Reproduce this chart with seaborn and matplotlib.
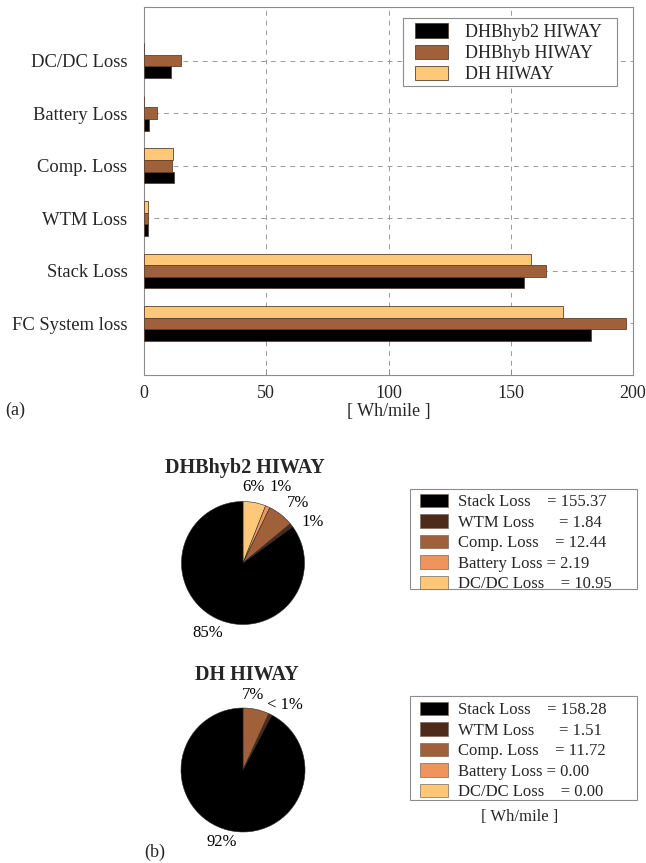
import numpy as np
import pandas as pd
import matplotlib
matplotlib.use("Agg")
import matplotlib.pyplot as plt
from matplotlib.patches import Patch, Rectangle
import seaborn as sns

# ---- data -------------------------------------------------------------
categories = ["DC/DC Loss", "Battery Loss", "Comp. Loss", "WTM Loss",
              "Stack Loss", "FC System loss"]
vehicles = ["DH HIWAY", "DHBhyb HIWAY", "DHBhyb2 HIWAY"]

dh_hiway = [0.00, 0.00, 11.72, 1.51, 158.28, 171.51]
dhbhyb_hiway = [15.3, 5.2, 11.6, 1.6, 164.4, 197.0]
dhbhyb2_hiway = [10.95, 2.19, 12.44, 1.84, 155.37, 182.79]

pie_parts = ["Stack Loss", "WTM Loss", "Comp. Loss", "Battery Loss", "DC/DC Loss"]
pie_dhbhyb2 = [155.37, 1.84, 12.44, 2.19, 10.95]
pie_dh = [158.28, 1.51, 11.72, 0.00, 0.00]

# ---- style ------------------------------------------------------------
sns.set_theme(style="white")
plt.rcParams["font.family"] = ["Liberation Serif", "DejaVu Serif"]

c_black = "#000000"
c_brown = "#A0603A"
c_light = "#FFC878"
c_orange = "#F0945E"
c_dark = "#4E2A1A"
bar_palette = {"DH HIWAY": c_light, "DHBhyb HIWAY": c_brown, "DHBhyb2 HIWAY": c_black}
pie_colors = {"Stack Loss": c_black, "WTM Loss": c_dark, "Comp. Loss": c_brown,
              "Battery Loss": c_orange, "DC/DC Loss": c_light}
frame_gray = "#8c8c8c"

W, H = 646, 863
fig = plt.figure(figsize=(W / 100, H / 100), dpi=100)


def fx(px):
    return px / W


def fy(py):
    return 1 - py / H


def box(x0, y0, x1, y1):
    """Plain gray frame given in pixel coordinates from the top-left corner."""
    fig.patches.append(Rectangle((fx(x0), fy(y1)), fx(x1) - fx(x0), fy(y0) - fy(y1),
                                 transform=fig.transFigure, fill=False,
                                 edgecolor=frame_gray, linewidth=0.8, zorder=5))


# ---- (a) grouped horizontal bars ---------------------------------------
df = pd.DataFrame({
    "category": categories * 3,
    "value": dh_hiway + dhbhyb_hiway + dhbhyb2_hiway,
    "vehicle": [v for v in vehicles for _ in categories],
})

ax = fig.add_axes([fx(144), fy(375), fx(633) - fx(144), fy(7) - fy(375)])
sns.barplot(data=df, y="category", x="value", hue="vehicle", order=categories,
            hue_order=vehicles, palette=bar_palette, orient="h", width=0.66,
            saturation=1, errorbar=None, edgecolor="#5a4332", linewidth=0.6,
            ax=ax, zorder=3)
ax.set_xlim(0, 200)
ax.set_ylim(5.98, -1.02)
ax.set_xticks([0, 50, 100, 150, 200])
ax.set_ylabel("")
ax.set_xlabel("[ Wh/mile ]", fontsize=13, labelpad=1)
ax.tick_params(axis="x", direction="in", length=4, width=0.7, color=frame_gray,
               labelsize=13, pad=7, bottom=True)
ax.tick_params(axis="y", length=0, labelsize=13.4, pad=12)
ax.set_axisbelow(True)
ax.grid(True, axis="both", color="#9a9a9a", linestyle=(0, (5, 5)), linewidth=0.7)
for s in ax.spines.values():
    s.set_color(frame_gray)
    s.set_linewidth(0.8)

handles = [Patch(facecolor=bar_palette[v], edgecolor="#5a4332", linewidth=0.6)
           for v in vehicles[::-1]]
leg = ax.legend(handles, vehicles[::-1], loc="upper left",
                bbox_to_anchor=(fx(415), fy(23.5)), bbox_transform=fig.transFigure,
                borderaxespad=0, borderpad=0, fontsize=13, handlelength=1.85,
                handleheight=0.85, handletextpad=0.9, labelspacing=0.2,
                frameon=False)
leg.set_zorder(6)
ax.add_patch(Rectangle(((403 - 144) / 489, 1 - (86 - 7) / 368),
                       (617 - 403) / 489, (86 - 18) / 368, transform=ax.transAxes,
                       facecolor="white", edgecolor=frame_gray, linewidth=0.8,
                       zorder=5))

fig.text(fx(5), fy(410), "(a)", fontsize=13, va="center", ha="left")

# ---- (b) pies ----------------------------------------------------------
pie_order = ["DC/DC Loss", "Battery Loss", "Comp. Loss", "WTM Loss", "Stack Loss"]


def pct_label(p):
    if p <= 0:
        return ""
    if p < 1:
        return "< 1%"
    return f"{p:.0f}%"


def draw_pie(values, cx, cy, r, shifts, radii, title, tx, ty):
    size = 200
    pax = fig.add_axes([fx(cx - size / 2), fy(cy + size / 2), fx(size), size / H])
    lookup = dict(zip(pie_parts, values))
    vals = [lookup[k] for k in pie_order]
    cols = [pie_colors[k] for k in pie_order]
    wedges, _, autotexts = pax.pie(
        vals, colors=cols, startangle=90, counterclock=False,
        autopct=pct_label, wedgeprops=dict(edgecolor="#2a2a2a", linewidth=0.4),
        textprops=dict(fontsize=12, color="black"))
    # put each percentage just outside its own wedge
    for w, t, d, rr in zip(wedges, autotexts, shifts, radii):
        a = np.deg2rad((w.theta1 + w.theta2) / 2 + d)
        t.set_position((rr * np.cos(a), rr * np.sin(a)))
    lim = size / 2 / r
    pax.set_xlim(-lim, lim)
    pax.set_ylim(-lim, lim)
    pax.set_aspect("equal")
    pax.axis("off")
    fig.text(fx(tx), fy(ty), title, fontsize=14.5, fontweight="bold",
             ha="center", va="center")


draw_pie(pie_dhbhyb2, 243, 563, 61.5, [3, -2.5, -4.3, -7, 0],
         [1.24, 1.37, 1.33, 1.31, 1.28], "DHBhyb2 HIWAY", 245, 468)
draw_pie(pie_dh, 243, 770, 62, [0, 0, 5, -7, -2.5],
         [1.2, 1.2, 1.22, 1.25, 1.21], "DH HIWAY", 247, 675)

spacing = {"Stack Loss": 4, "WTM Loss": 6, "Comp. Loss": 4,
           "Battery Loss": 1, "DC/DC Loss": 4}


def pie_legend(values, frame, first_row):
    hs = [Patch(facecolor=pie_colors[k], edgecolor="#7a6a5a", linewidth=0.5)
          for k in pie_parts]
    labs = [f"{k}{' ' * spacing[k]}= {v:.2f}" for k, v in zip(pie_parts, values)]
    fig.legend(hs, labs, loc="upper left",
               bbox_to_anchor=(fx(420), fy(first_row - 8)),
               borderaxespad=0, borderpad=0, fontsize=12,
               handlelength=1.7, handleheight=0.85, handletextpad=0.6,
               labelspacing=0.24, frameon=False)
    box(*frame)


pie_legend(pie_dhbhyb2, (410, 489, 637, 589), 502)
pie_legend(pie_dh, (410, 696, 637, 800), 710)

fig.text(fx(520), fy(817), "[ Wh/mile ]", fontsize=12, ha="center", va="center")
fig.text(fx(155), fy(852), "(b)", fontsize=13, ha="center", va="center")

fig.savefig("out.png", dpi=100, facecolor="white")
